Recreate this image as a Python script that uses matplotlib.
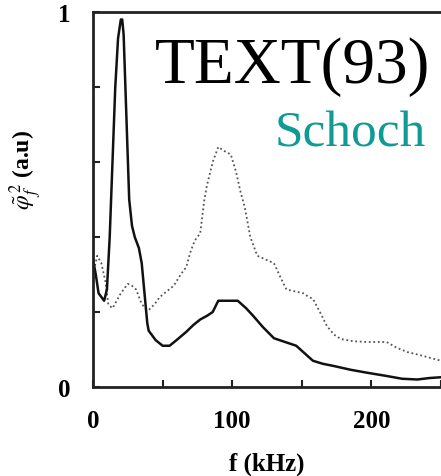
import matplotlib
matplotlib.use('Agg')
import matplotlib.pyplot as plt

# solid curve (black)
f_solid = [0, 2, 4, 6, 8, 10, 12, 14, 16, 18, 20, 21, 22, 24, 26, 28, 30, 33, 35, 37, 39,
           40, 45, 50, 55, 60, 67, 72, 77, 82, 86, 88, 90, 97, 104, 110, 115, 122, 130,
           138, 146, 152, 158, 165, 173, 185, 197, 210, 222, 233, 242, 250]
p_solid = [0.34, 0.30, 0.25, 0.24, 0.23, 0.26, 0.40, 0.60, 0.80, 0.93, 0.98, 0.98, 0.94, 0.72,
           0.50, 0.43, 0.40, 0.37, 0.33, 0.25, 0.17,
           0.15, 0.125, 0.11, 0.11, 0.125, 0.147, 0.165, 0.18, 0.19, 0.20, 0.215, 0.23, 0.23,
           0.23, 0.21, 0.19, 0.16, 0.13, 0.12, 0.11, 0.09, 0.07, 0.062, 0.056, 0.046, 0.038,
           0.03, 0.022, 0.02, 0.024, 0.026]

# dotted curve
f_dot = [0, 3, 6, 9, 11, 14, 17, 20, 25, 28, 31, 34, 37, 40, 44, 48, 53, 58, 63, 67, 70,
         73, 77, 80, 82, 86, 90, 94, 99, 103, 106, 109, 113, 118, 124, 130, 135, 139, 145,
         151, 155, 158, 163, 168, 173, 178, 187, 197, 205, 211, 218, 226, 235, 245, 250]
p_dot = [0.30, 0.35, 0.33, 0.28, 0.22, 0.21, 0.23, 0.25, 0.275, 0.27, 0.26, 0.23, 0.21,
         0.205, 0.22, 0.24, 0.255, 0.27, 0.30, 0.32, 0.36, 0.39, 0.41, 0.50, 0.54, 0.60,
         0.64, 0.63, 0.62, 0.57, 0.52, 0.48, 0.40, 0.35, 0.34, 0.33, 0.29, 0.26, 0.255,
         0.25, 0.24, 0.235, 0.20, 0.163, 0.14, 0.128, 0.122, 0.12, 0.12, 0.12, 0.105,
         0.093, 0.085, 0.075, 0.07]

x_ticks = [0, 50, 100, 150, 200, 250]
x_labels = ['0', '', '100', '', '200', '']
y_ticks = [0, 0.2, 0.4, 0.6, 0.8, 1.0]
y_labels = ['0', '', '', '', '', '1']

plt.rcParams['font.family'] = ['Liberation Serif', 'DejaVu Serif']
plt.rcParams['mathtext.fontset'] = 'stix'

W, H = 441, 477
fig = plt.figure(figsize=(W / 100, H / 100), dpi=100)
ax = fig.add_axes([93 / W, 1 - 388 / H, 1 - 93 / W, (388 - 13) / H])

ax.plot(f_dot, p_dot, color='#555555', lw=1.3, ls=(0, (1, 1.5)))
ax.plot(f_solid, p_solid, color='#111111', lw=1.8)

ax.set_xlim(0, 250)
ax.set_ylim(0, 1)
ax.set_xticks(x_ticks)
ax.set_xticklabels(x_labels, fontsize=18, fontweight='bold')
ax.set_yticks(y_ticks)
ax.set_yticklabels(y_labels, fontsize=18, fontweight='bold')
ax.tick_params(direction='in', length=5, width=1.5, color='#222222')
ax.tick_params(axis='x', pad=16)
ax.tick_params(axis='y', pad=16)

for s in ['left', 'bottom', 'top']:
    ax.spines[s].set_linewidth(2)
    ax.spines[s].set_color('#222222')
ax.spines['right'].set_visible(False)

ax.set_xlabel('f (kHz)', fontsize=18, fontweight='bold', labelpad=14)
ax.set_ylabel(r'$\tilde{\varphi}_f^{\,2}$ (a.u)', fontsize=17, fontweight='bold')
ax.yaxis.set_label_coords(-0.14, 0.58)

fig.text(430 / W, 1 - 83 / H, 'TEXT(93)', fontsize=47, color='black', ha='right', va='baseline')
fig.text(426 / W, 1 - 147 / H, 'Schoch', fontsize=37, color='#0f9a94', ha='right', va='baseline')

fig.savefig('out.png', dpi=100)
